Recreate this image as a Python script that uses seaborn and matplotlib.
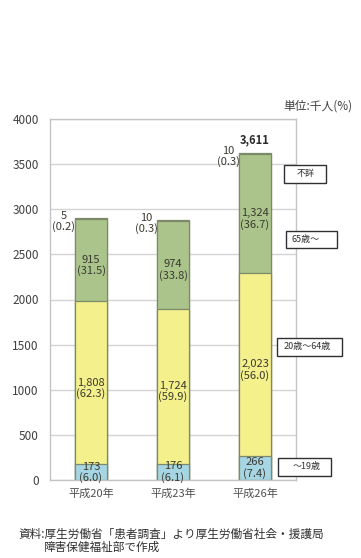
import matplotlib
matplotlib.use("Agg")
import matplotlib.pyplot as plt
import matplotlib.patches as mpatches
import numpy as np
import pandas as pd
import seaborn as sns

# ---- data (千人, %) ----
years = ["平成20年", "平成23年", "平成26年"]
age_groups = ["～19歳", "20歳～64歳", "65歳～", "不詳"]
under19 = [173, 176, 266]
age20_64 = [1808, 1724, 2023]
over65 = [915, 974, 1324]
unknown = [5, 10, 10]
pct_under19 = [6.0, 6.1, 7.4]
pct_20_64 = [62.3, 59.9, 56.0]
pct_over65 = [31.5, 33.8, 36.7]
pct_unknown = [0.2, 0.3, 0.3]
total_labels = ["", "", "3,611"]
y_ticks = [0, 500, 1000, 1500, 2000, 2500, 3000, 3500, 4000]

sns.set_theme(style="white")
plt.rcParams["font.family"] = ["Liberation Sans Narrow", "Noto Sans CJK JP", "DejaVu Sans"]

W, H = 361, 558
fig = plt.figure(figsize=(W / 100, H / 100), dpi=100)
fig.patch.set_facecolor("white")


def fx(px):
    return px / W


def fy(py):
    return 1 - py / H


ax = fig.add_axes([fx(50), fy(480), fx(296) - fx(50), fy(119) - fy(480)])

series = [under19, age20_64, over65, unknown]
pcts = [pct_under19, pct_20_64, pct_over65, pct_unknown]
colors = ["#a6d6e3", "#f4f08c", "#abc48c", "#abc48c"]
edge = "#7d8a6a"

cum = np.cumsum(np.array(series), axis=0)  # shape (4, 3)

# stacked bars: draw cumulative heights from the top layer down
for i in range(len(series) - 1, -1, -1):
    df = pd.DataFrame({"year": years, "value": cum[i]})
    sns.barplot(data=df, x="year", y="value", order=years, width=0.4,
                color=colors[i], saturation=1, edgecolor=edge, linewidth=0.9,
                errorbar=None, ax=ax, zorder=2)

ax.set_xlim(-0.5, 2.5)
ax.set_ylim(0, 4000)
ax.set_yticks(y_ticks)
ax.set_yticklabels([str(t) for t in y_ticks])
ax.set_xlabel("")
ax.set_ylabel("")
ax.yaxis.grid(True, color="#d4d4d4", linewidth=1)
ax.set_axisbelow(True)
for s in ax.spines.values():
    s.set_color("#c4c4c4")
    s.set_linewidth(1)

ax.tick_params(axis="y", length=0, pad=8, labelsize=8.5, labelcolor="#404040")
ax.tick_params(axis="x", which="major", length=0, pad=6, labelsize=8, labelcolor="#505050")
ax.set_xticks([-0.5, 0.5, 1.5, 2.5], minor=True)
ax.tick_params(axis="x", which="minor", length=4, color="#b0b0b0", width=1)
for lab in ax.get_xticklabels():
    lab.set_family(["Noto Sans CJK JP", "DejaVu Sans"])

txt_color = "#3a3a30"
# segment labels inside bars
for i in range(3):
    for k in range(3):
        lo = cum[k - 1][i] if k > 0 else 0
        mid = lo + series[k][i] / 2
        ax.text(i, mid - 60 if k > 0 else mid, f"{series[k][i]:,}\n({pcts[k][i]:.1f})",
                ha="center", va="center", fontsize=8, color=txt_color,
                linespacing=1.05, zorder=5)
    # tiny "不詳" segment: label at the left of the bar top
    top = cum[3][i]
    ax.text(i - 0.19, top - 40, f"{unknown[i]}\n({pct_unknown[i]:.1f})",
            ha="right", va="center", fontsize=8, color=txt_color,
            multialignment="center", linespacing=1.0, zorder=5)
    if total_labels[i]:
        ax.text(i, top + 150, total_labels[i], ha="center", va="center",
                fontsize=8, fontweight="bold", color="#2a2a2a", zorder=5)

# category boxes on the right
boxes = [
    ("不詳", 284, 165, 42, 18, 297),
    ("65歳～", 286, 231, 51, 17, 292),
    ("20歳～64歳", 277, 338, 65, 18, 284),
    ("～19歳", 278, 458, 53, 18, 293),
]
for label, x0, y0, w, h, tx in boxes:
    rect = mpatches.Rectangle((fx(x0), fy(y0 + h)), fx(w), fy(0) - fy(h),
                              transform=fig.transFigure, facecolor="white",
                              edgecolor="#303030", linewidth=1, zorder=10)
    fig.add_artist(rect)
    fig.text(fx(tx), fy(y0 + h / 2), label, ha="left", va="center",
             fontsize=6.5, color="#303030", zorder=11,
             family=["Noto Sans CJK JP", "DejaVu Sans"])

fig.text(fx(352), fy(106), "単位:千人(%)", ha="right", va="center", fontsize=8.5,
         color="#404040", family=["Noto Sans CJK JP", "DejaVu Sans"])

fig.text(fx(18), fy(534), "資料:厚生労働省「患者調査」より厚生労働省社会・援護局",
         ha="left", va="center", fontsize=8.4, color="#303030",
         family=["Noto Sans CJK JP", "DejaVu Sans"])
fig.text(fx(43), fy(547), "障害保健福祉部で作成",
         ha="left", va="center", fontsize=8.4, color="#303030",
         family=["Noto Sans CJK JP", "DejaVu Sans"])

fig.savefig("out.png", dpi=100, facecolor="white")
